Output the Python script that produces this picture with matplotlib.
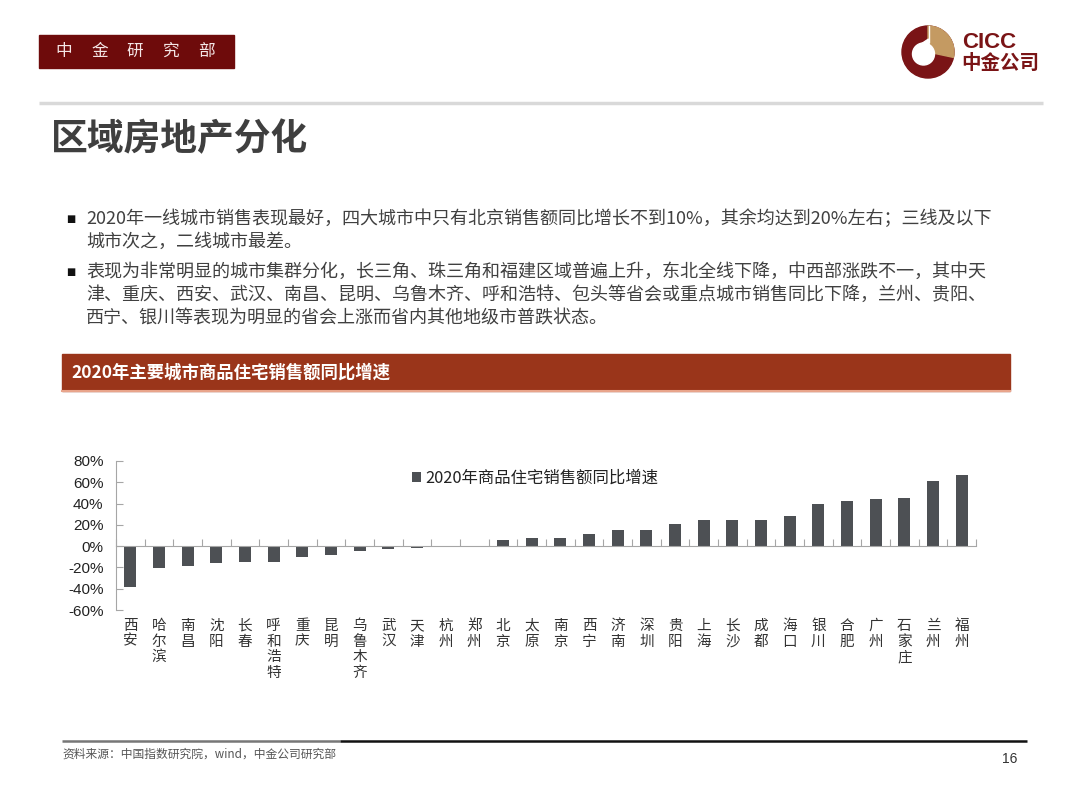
import matplotlib
matplotlib.use("Agg")
import matplotlib.pyplot as plt
import matplotlib.transforms as mtransforms
from matplotlib.patches import Rectangle, Circle, Wedge, Polygon
from matplotlib.ticker import FuncFormatter, FixedLocator
import numpy as np

plt.rcParams['font.family'] = ['Noto Sans CJK SC', 'DejaVu Sans']

# data
cities = ['西安', '哈尔滨', '南昌', '沈阳', '长春', '呼和浩特', '重庆', '昆明', '乌鲁木齐', '武汉',
          '天津', '杭州', '郑州', '北京', '太原', '南京', '西宁', '济南', '深圳', '贵阳',
          '上海', '长沙', '成都', '海口', '银川', '合肥', '广州', '石家庄', '兰州', '福州']
growth = [-38.0, -20.4, -18.2, -16.0, -14.7, -14.6, -10.3, -8.5, -4.7, -2.8,
          -1.9, -0.6, 0.3, 5.8, 7.8, 8.0, 11.3, 14.7, 15.0, 20.4,
          24.1, 24.1, 24.7, 28.5, 39.8, 42.3, 44.5, 44.8, 61.4, 66.7]
series_name = '2020年商品住宅销售额同比增速'
yticks = [-60, -40, -20, 0, 20, 40, 60, 80]

page_title = '区域房地产分化'
header = '中金研究部'
chart_title = '2020年主要城市商品住宅销售额同比增速'
bullets = [
    ['2020年一线城市销售表现最好，四大城市中只有北京销售额同比增长不到10%，其余均达到20%左右；三线及以下',
     '城市次之，二线城市最差。'],
    ['表现为非常明显的城市集群分化，长三角、珠三角和福建区域普遍上升，东北全线下降，中西部涨跌不一，其中天',
     '津、重庆、西安、武汉、南昌、昆明、乌鲁木齐、呼和浩特、包头等省会或重点城市销售同比下降，兰州、贵阳、',
     '西宁、银川等表现为明显的省会上涨而省内其他地级市普跌状态。'],
]
source = '资料来源：中国指数研究院，wind，中金公司研究部'
page_no = '16'

W, H = 1080, 807
fig = plt.figure(figsize=(W / 100, H / 100), dpi=100)

# page background layer in pixel coordinates
bg = fig.add_axes([0, 0, 1, 1])
bg.set_xlim(0, W)
bg.set_ylim(H, 0)
bg.axis('off')

dark_red = '#6E0B0B'
bg.add_patch(Rectangle((39, 35), 195, 33, color=dark_red))
for i, ch in enumerate(header):
    bg.text(64 + i * 35.5, 51.5, ch, color='#F4E6E6', fontsize=12,
            ha='center', va='center')

bg.plot([39, 1043], [103, 103], color='#D9D9D9', lw=2.5, solid_capstyle='butt')
bg.text(51, 140, page_title, fontsize=26.5, fontweight='bold', color='#3F3F3F',
        ha='left', va='center')

# CICC logo
logo_red = '#7A1416'
bg.add_patch(Circle((928, 52), 26, color=logo_red))
bg.add_patch(Wedge((928, 52), 26, -90, 12, color='#C49A62'))
bg.add_patch(Circle((923.5, 54), 11, color='white'))
bg.add_patch(Polygon([[918, 46], [928.5, 39], [930, 50]], closed=True, color='white'))
bg.plot([928.5, 928.5], [26, 42], color='white', lw=1.0)
bg.text(962, 43, 'CICC', fontsize=16, fontweight='bold', color=logo_red,
        ha='left', va='center', family=['Liberation Sans', 'DejaVu Sans'])
bg.text(961, 63, '中金公司', fontsize=14, fontweight='bold', color=logo_red,
        ha='left', va='center')

# bullet paragraphs
y = 219
for para in bullets:
    bg.text(71, y, '■', fontsize=7, color='#111111', ha='center', va='center',
            family=['DejaVu Sans'])
    for line in para:
        bg.text(86, y, line, fontsize=13.0, color='#404040', ha='left', va='center')
        y += 23
    y += 7

# chart banner
bg.add_patch(Rectangle((62, 354), 948, 37, color='#9A351A'))
bg.plot([62, 1010], [391, 391], color='#E9A58C', lw=1.5)
bg.text(71, 372.5, chart_title, fontsize=12.5, fontweight='bold', color='white',
        ha='left', va='center')

# footer
bg.plot([62, 340], [741, 741], color='#777777', lw=1.8, solid_capstyle='butt')
bg.plot([340, 1027], [741, 741], color='#111111', lw=1.8, solid_capstyle='butt')
bg.text(62, 754, source, fontsize=8.5, color='#555555', ha='left', va='center')
bg.text(1017, 759, page_no, fontsize=10, color='#333333', ha='right', va='center',
        family=['Liberation Sans', 'DejaVu Sans'])

# chart axes: x -0.5..29.5 spans px 116..976, y -60..80 spans px 610..461
ax = fig.add_axes([116 / W, 1 - 610 / H, (976 - 116) / W, (610 - 461) / H])
ax.patch.set_alpha(0)
x = np.arange(len(cities))
ax.bar(x, growth, width=0.42, color='#4D5054', label=series_name, zorder=2)
ax.set_xlim(-0.5, len(cities) - 0.5)
ax.set_ylim(yticks[0], yticks[-1])

axis_gray = '#A6A6A6'
for s in ['top', 'right']:
    ax.spines[s].set_visible(False)
ax.spines['left'].set_color(axis_gray)
ax.spines['bottom'].set_color(axis_gray)
ax.spines['bottom'].set_position(('data', 0))

ax.yaxis.set_major_locator(FixedLocator(yticks))
ax.yaxis.set_major_formatter(FuncFormatter(lambda v, p: f'{v:.0f}%'))
ax.tick_params(axis='y', direction='in', length=5, color=axis_gray, pad=9,
               labelsize=11, labelcolor='#222222')
for lab in ax.get_yticklabels():
    lab.set_family(['Liberation Sans', 'DejaVu Sans'])

ax.set_xticks(np.arange(-0.5, len(cities), 1))
ax.tick_params(axis='x', direction='in', length=5, color=axis_gray, labelbottom=False)

trans = mtransforms.blended_transform_factory(ax.transData, ax.transAxes)
for xi, name in zip(x, cities):
    ax.text(xi, -0.06, '\n'.join(name), transform=trans, ha='center', va='top',
            fontsize=10.5, color='#333333', linespacing=1.15)

leg = ax.legend(loc='center left', bbox_to_anchor=(412 / W, 1 - 478 / H),
                bbox_transform=fig.transFigure, frameon=False, borderaxespad=0,
                borderpad=0, handlelength=0.55, handleheight=0.55, handletextpad=0.25,
                fontsize=11.8)
for t in leg.get_texts():
    t.set_color('#222222')

fig.savefig('out.png', dpi=100)
